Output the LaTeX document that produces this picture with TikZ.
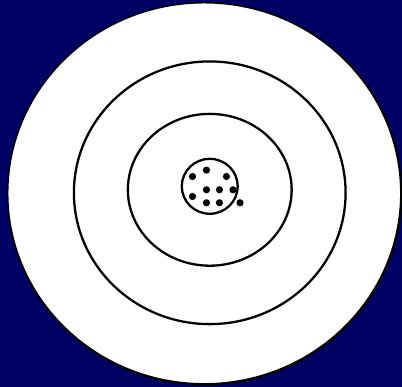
\documentclass[tikz,border=0pt]{standalone}
\usepackage{tikz}
\definecolor{NavyBg}{RGB}{0,0,100}

\begin{document}
\begin{tikzpicture}[x=0.02cm, y=-0.02cm]
\tikzset{
  ring/.style={draw=black, fill=white, line width=1.3pt},
  pellet/.style={fill=black}
}
  \def\cx{210}
  \def\cy{191}

  % background
  \fill[NavyBg] (0,0) rectangle (402,387);

  % target rings
  \draw[ring, line width=1.1pt] (204.5,193.5) ellipse [x radius=197, y radius=191];
  \draw[ring] (\cx,193) ellipse [x radius=136, y radius=131.5];
  \draw[ring] (\cx,190) ellipse [x radius=82, y radius=76];
  \draw[ring] (\cx,186.5) ellipse [x radius=28, y radius=27.5];

  % shot holes
  \foreach \px/\py in {206.7/170.3, 192.7/176.7, 226.7/176.7, 206.7/190,
                       219.7/190, 233.3/190, 192.7/196.7, 206.7/203,
                       219.7/203, 240.3/203}
    \fill[pellet] (\px,\py) circle [radius=3.6];
\end{tikzpicture}
\end{document}
